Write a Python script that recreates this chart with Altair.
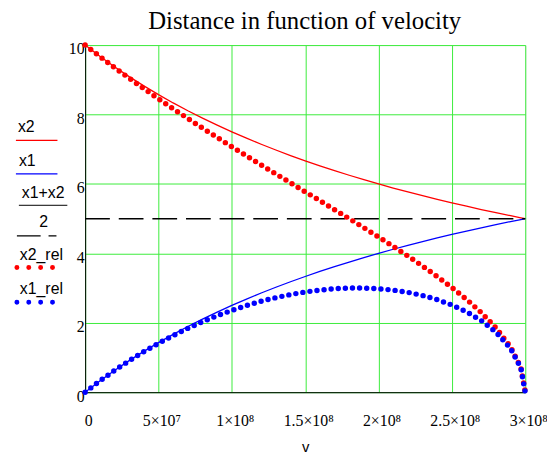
import altair as alt
import pandas as pd

# ---- data (v in units of 1e7 m/s) ----
v_e7 = [0, 1, 2, 3, 4, 5, 6, 7, 8, 9, 10, 11, 12, 13, 14, 15, 16, 17, 18, 19,
        20, 21, 22, 23, 24, 25, 26, 27, 28, 29, 29.7, 30]
x2 = [10, 9.677, 9.375, 9.091, 8.824, 8.571, 8.333, 8.108, 7.895, 7.692, 7.5,
      7.317, 7.143, 6.977, 6.818, 6.667, 6.522, 6.383, 6.25, 6.122, 6.0,
      5.882, 5.769, 5.660, 5.556, 5.455, 5.357, 5.263, 5.172, 5.085, 5.025, 5.0]
x1 = [0, 0.323, 0.625, 0.909, 1.176, 1.429, 1.667, 1.892, 2.105, 2.308, 2.5,
      2.683, 2.857, 3.023, 3.182, 3.333, 3.478, 3.617, 3.75, 3.878, 4.0,
      4.118, 4.231, 4.340, 4.444, 4.545, 4.643, 4.737, 4.828, 4.915, 4.975, 5.0]
x2_rel = [10, 9.672, 9.354, 9.045, 8.745, 8.451, 8.165, 7.884, 7.609, 7.338,
          7.071, 6.807, 6.547, 6.288, 6.030, 5.774, 5.517, 5.259, 5.0, 4.738,
          4.472, 4.201, 3.922, 3.634, 3.333, 3.015, 2.673, 2.294, 1.857, 1.302,
          0.709, 0.0]
x1_rel = [0, 0.323, 0.624, 0.905, 1.166, 1.409, 1.633, 1.840, 2.029, 2.202,
          2.357, 2.496, 2.619, 2.724, 2.814, 2.887, 2.942, 2.980, 3.0, 3.001,
          2.981, 2.941, 2.877, 2.786, 2.667, 2.512, 2.316, 2.065, 1.733, 1.258,
          0.702, 0.0]
mean_v_e7 = [0, 30]
mean_val = [5.0, 5.0]

x_ticks = [0, 5e7, 1e8, 1.5e8, 2e8, 2.5e8, 3e8]
x_tick_labels = ["0", "5×10⁷", "1×10⁸", "1.5×10⁸", "2×10⁸", "2.5×10⁸", "3×10⁸"]
y_ticks = [0, 2, 4, 6, 8, 10]
title_text = "Distance in function of velocity"

RED = "#ff0000"
BLUE = "#0000ff"
GRID = "#3cec3c"
W, H = 445, 351

rows = []
for name, ys in [("x2", x2), ("x1", x1), ("x2_rel", x2_rel), ("x1_rel", x1_rel)]:
    for i, (vv, yy) in enumerate(zip(v_e7, ys)):
        rows.append({"v": vv * 1e7, "y": yy, "series": name, "order": i})
for i, (vv, yy) in enumerate(zip(mean_v_e7, mean_val)):
    rows.append({"v": vv * 1e7, "y": yy, "series": "mean", "order": i})
df = pd.DataFrame(rows)

label_expr = " : ".join(
    f"datum.value == {t} ? '{l}'" for t, l in zip(x_ticks, x_tick_labels)
) + " : ''"

xenc = alt.X("v:Q", scale=alt.Scale(domain=[0, 3e8], nice=False, zero=False),
             axis=alt.Axis(values=x_ticks, labelExpr=label_expr, grid=True,
                           gridColor=GRID, gridWidth=1, ticks=False, tickSize=0,
                           domainColor="black", labelFont="Liberation Serif",
                           labelFontSize=16, labelColor="black", labelPadding=21,
                           labelOffset=3, labelFlush=False, labelOverlap=False,
                           title="v", titleFont="Liberation Sans",
                           titleFontSize=15, titleFontWeight="normal",
                           titleColor="black", titlePadding=11))
yenc = alt.Y("y:Q", scale=alt.Scale(domain=[0, 10], nice=False),
             axis=alt.Axis(values=y_ticks, grid=True, gridColor=GRID, gridWidth=1,
                           ticks=False, tickSize=0, domainColor="black",
                           labelFont="Liberation Serif", labelFontSize=16,
                           labelColor="black", labelPadding=1, labelOffset=4,
                           labelFlush=False, labelBaseline="middle",
                           labelOverlap=False, title=None))

base = alt.Chart(df)

solid = base.transform_filter(
    alt.FieldOneOfPredicate(field="series", oneOf=["x2", "x1"])
).mark_line(strokeWidth=1.3).encode(
    x=xenc, y=yenc, order="order:Q",
    color=alt.Color("series:N", scale=alt.Scale(domain=["x2", "x1"], range=[RED, BLUE]),
                    legend=None),
)

dashed = base.transform_filter(alt.datum.series == "mean").mark_line(
    strokeWidth=1.5, strokeDash=[25, 9], color="black"
).encode(x=xenc, y=yenc, order="order:Q")

dotted = base.transform_filter(
    alt.FieldOneOfPredicate(field="series", oneOf=["x2_rel", "x1_rel"])
).mark_line(strokeWidth=5.5, strokeDash=[0, 7.2], strokeCap="round").encode(
    x=xenc, y=yenc, order="order:Q",
    color=alt.Color("series:N",
                    scale=alt.Scale(domain=["x2_rel", "x1_rel"], range=[RED, BLUE]),
                    legend=None),
    detail="series:N",
)

# ---- Mathcad-style legend on the left and the title ----
one = alt.Data(values=[{"k": 1}])
LF = "Liberation Sans"
LS = 16


def ltext(txt, x, y, align="left", font=LF, size=LS):
    return alt.Chart(one).mark_text(align=align, baseline="alphabetic", font=font,
                                    fontSize=size, color="black").encode(
        x=alt.value(x), y=alt.value(y), text=alt.value(txt))


def lrule(x0, x1_, y, color, width=1.2, dash=None, cap="butt"):
    kw = dict(color=color, strokeWidth=width, strokeCap=cap)
    if dash is not None:
        kw["strokeDash"] = dash
    return alt.Chart(one).mark_rule(**kw).encode(
        x=alt.value(x0), x2=alt.value(x1_), y=alt.value(y))


title = ltext(title_text, 222, -16, align="center", font="Liberation Serif", size=25)

legend = [
    ltext("x2", -68, 88),
    lrule(-70, -28, 96.3, RED),
    ltext("x1", -67, 122),
    lrule(-70, -28, 130.3, BLUE),
    ltext("x1+x2", -64, 155),
    lrule(-67, -18, 162, "black", 1),
    ltext("2", -42, 184, align="center"),
    lrule(-69, -29, 193, "black", 1.2, dash=[24, 8]),
    ltext("x2_rel", -66, 217),
    lrule(-69, -32.9, 225, RED, 5, dash=[0, 12], cap="round"),
    ltext("x1_rel", -66, 252),
    lrule(-69, -32.9, 260, BLUE, 5, dash=[0, 12], cap="round"),
]

chart = alt.layer(solid, dashed, dotted, title, *legend).properties(
    width=W, height=H,
    autosize=alt.AutoSizeParams(type="none"),
    padding={"left": 78, "top": 35, "right": 22, "bottom": 60},
).configure_view(stroke="black", strokeWidth=1).configure(background="white")

chart.save("out.html", embed_options={"renderer": "svg", "actions": False})
